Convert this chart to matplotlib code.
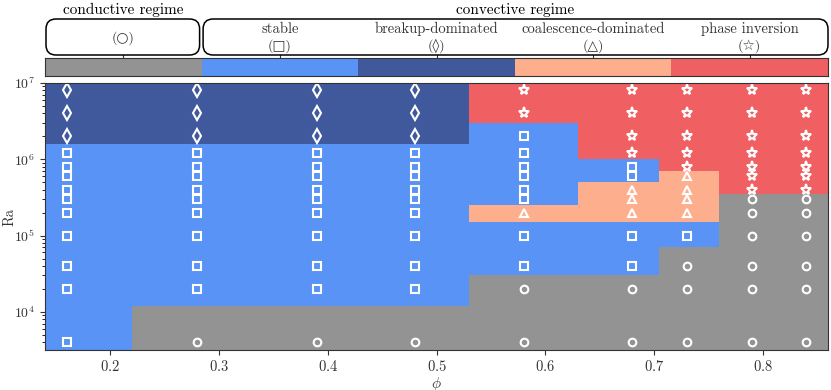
import numpy as np
import matplotlib
matplotlib.use("Agg")
import matplotlib.pyplot as plt
from matplotlib.colors import ListedColormap
from matplotlib.patches import FancyBboxPatch

plt.rcParams['font.family'] = ['cmr10', 'DejaVu Sans']
plt.rcParams['mathtext.fontset'] = 'cm'
plt.rcParams['axes.formatter.use_mathtext'] = True
plt.rcParams['font.size'] = 10

# volume fraction and Rayleigh numbers of the runs
phi = [0.16, 0.28, 0.39, 0.48, 0.58, 0.68, 0.73, 0.79, 0.84]
Ra = [4e3, 2e4, 4e4, 1e5, 2e5, 3e5, 4e5, 6e5, 8e5, 1.2e6, 2e6, 4e6, 8e6]

# regime of each run, one row per phi, Ra from low to high
# 0 conductive, 1 stable, 2 breakup, 3 coalescence, 4 phase inversion
regime = np.array([
    [1, 1, 1, 1, 1, 1, 1, 1, 1, 1, 2, 2, 2],
    [0, 1, 1, 1, 1, 1, 1, 1, 1, 1, 2, 2, 2],
    [0, 1, 1, 1, 1, 1, 1, 1, 1, 1, 2, 2, 2],
    [0, 1, 1, 1, 1, 1, 1, 1, 1, 1, 2, 2, 2],
    [0, 0, 1, 1, 3, 1, 1, 1, 1, 1, 1, 4, 4],
    [0, 0, 1, 1, 3, 3, 3, 1, 1, 4, 4, 4, 4],
    [0, 0, 0, 1, 3, 3, 3, 3, 4, 4, 4, 4, 4],
    [0, 0, 0, 0, 0, 0, 4, 4, 4, 4, 4, 4, 4],
    [0, 0, 0, 0, 0, 0, 4, 4, 4, 4, 4, 4, 4],
])

regime_names = ['', 'stable', 'breakup-dominated', 'coalescence-dominated', 'phase inversion']
regime_symbols = ['○', '□', '◊', '△', '☆']
group_titles = ['conductive regime', 'convective regime']

colors = ['#939393', '#5893F5', '#40599D', '#FDAE8C', '#F06062']
markers = ['o', 's', 'd', '^', '*']
msizes = [5.5, 5.5, 7.0, 6.0, 8.0]

W, H = 831, 390


def edges(v):
    v = np.asarray(v, dtype=float)
    mid = (v[1:] + v[:-1]) / 2
    return np.concatenate([[v[0] - (mid[0] - v[0])], mid, [v[-1] + (v[-1] - mid[-1])]])


fig = plt.figure(figsize=(W / 100, H / 100), dpi=100)
ax = fig.add_axes([45 / W, 1 - 350 / H, 783 / W, 267 / H])
cmap = ListedColormap(colors)

xe = edges(phi)
ye = edges(Ra)
ye[0] = max(ye[0], 1e3)
ax.pcolormesh(xe, ye, regime.T, cmap=cmap, vmin=-0.5, vmax=4.5,
              antialiased=True, linewidth=0)

P, R = np.meshgrid(phi, Ra, indexing='ij')
for k in range(5):
    m = regime == k
    ax.plot(P[m], R[m], linestyle='none', marker=markers[k], ms=msizes[k],
            mfc='none', mec='white', mew=1.5)

ax.set_yscale('log')
ax.set_xlim(0.14, 0.86)
ax.set_ylim(10 ** 3.5, 1e7)
ax.set_xticks([0.2, 0.3, 0.4, 0.5, 0.6, 0.7, 0.8])
ax.tick_params(labelsize=10.5, labelcolor='#333333', color='#333333')
ax.tick_params(axis='y', labelsize=10)
ax.tick_params(axis='x', pad=3)
ax.set_xlabel(r'$\phi$', fontsize=11, color='#333333')
ax.set_ylabel('Ra', fontsize=10.5, color='#333333')
ax.xaxis.set_label_coords(0.5, -0.094)
ax.yaxis.set_label_coords(-0.037, 0.5)
for s in ax.spines.values():
    s.set_color('#333333')

# colour key above the plot
axb = fig.add_axes([45 / W, 1 - 76 / H, 783 / W, 18 / H])
axb.pcolormesh(np.arange(6), [0, 1], np.arange(5)[None, :], cmap=cmap,
               vmin=-0.5, vmax=4.5)
axb.set_xlim(0, 5)
axb.set_ylim(0, 1)
axb.set_yticks([])
axb.set_xticks(np.arange(5) + 0.5)
axb.tick_params(axis='x', top=True, bottom=False, labeltop=False,
                labelbottom=False, length=3, color='#333333')
for s in axb.spines.values():
    s.set_color('#333333')

# rounded boxes with regime names, in pixel units
ov = fig.add_axes([0, 0, 1, 1])
ov.set_xlim(0, W)
ov.set_ylim(H, 0)
ov.axis('off')

pos = axb.get_position()
bx0, bx1 = pos.x0 * W, pos.x1 * W
seg = (bx1 - bx0) / 5
btop = (1 - pos.y1) * H
box_top, box_bot = 19, btop - 3

groups = [(bx0 + 1, bx0 + seg - 2), (bx0 + seg + 1.5, bx1)]
for (g0, g1), title in zip(groups, group_titles):
    ov.add_patch(FancyBboxPatch((g0, box_top), g1 - g0, box_bot - box_top,
                                boxstyle='round,pad=0,rounding_size=10',
                                fc='white', ec='black', lw=1.1))
    ov.text((g0 + g1) / 2, 10, title, ha='center', va='center', fontsize=11)

for k in range(5):
    cx = bx0 + seg * (k + 0.5)
    if regime_names[k]:
        ov.text(cx, 29, regime_names[k], ha='center', va='center',
                fontsize=10.5, color='#333333')
        ov.text(cx, 46, '(' + regime_symbols[k] + ')', ha='center', va='center',
                fontsize=10, color='#333333')
    else:
        ov.text(cx, 38, '(' + regime_symbols[k] + ')', ha='center', va='center',
                fontsize=10, color='#333333')

fig.savefig('out.png', dpi=100)
